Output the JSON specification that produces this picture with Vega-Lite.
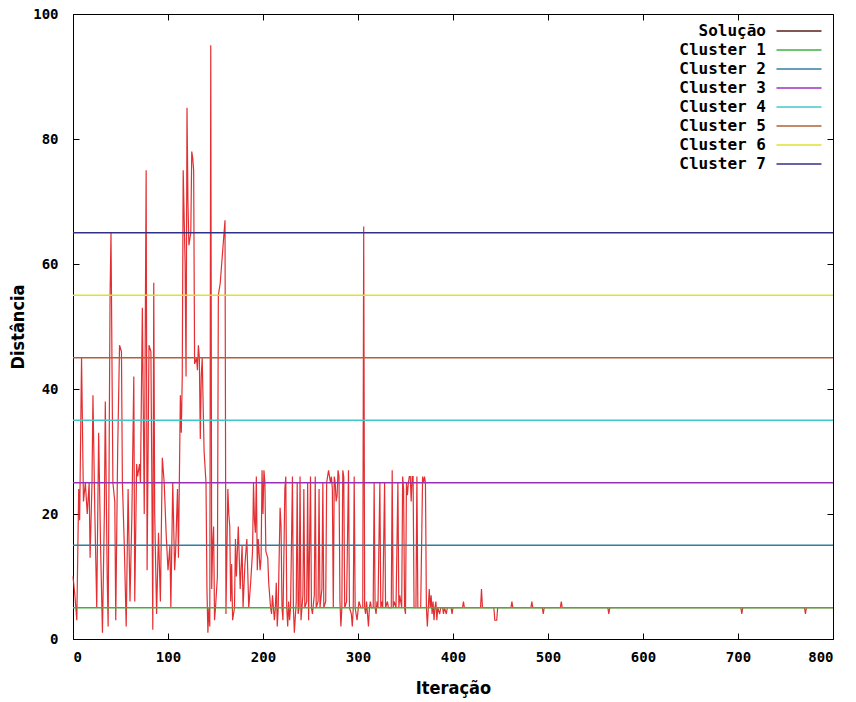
{
  "$schema": "https://vega.github.io/schema/vega-lite/v6.json",
  "width": 760,
  "height": 625,
  "autosize": {"type": "none"},
  "padding": {"left": 73, "top": 14, "right": 23, "bottom": 63},
  "background": "white",
  "config": {
    "view": {"stroke": "black", "strokeWidth": 1},
    "axis": {
      "grid": false,
      "domain": false,
      "labelFont": "DejaVu Sans Mono",
      "labelFontWeight": "bold",
      "labelFontSize": 14,
      "labelColor": "black",
      "tickColor": "black",
      "tickSize": -6,
      "titleFont": "DejaVu Sans Condensed",
      "titleFontWeight": "bold",
      "titleFontSize": 18,
      "titleColor": "black"
    },
    "legend": {
      "orient": "none",
      "legendX": 718,
      "legendY": 9,
      "padding": 0,
      "labelFont": "DejaVu Sans Mono",
      "labelFontWeight": "bold",
      "labelFontSize": 16,
      "labelColor": "black",
      "labelAlign": "right",
      "labelOffset": -41,
      "symbolType": "M-5,0H5",
      "symbolSize": 81,
      "symbolStrokeWidth": 1.5,
      "rowPadding": 3,
      "title": null
    }
  },
  "datasets": {
    "clusters": [
      {"s": "Cluster 1", "y": 5},
      {"s": "Cluster 2", "y": 15},
      {"s": "Cluster 3", "y": 25},
      {"s": "Cluster 4", "y": 35},
      {"s": "Cluster 5", "y": 45},
      {"s": "Cluster 6", "y": 55},
      {"s": "Cluster 7", "y": 65}
    ],
    "sol": [
      {"i":0,"v":10},{"i":2,"v":7},{"i":4,"v":3},{"i":6,"v":24},{"i":7,"v":19},{"i":9,"v":45},{"i":11,"v":22},{"i":13,"v":25},{"i":15,"v":20},{"i":17,"v":25},{"i":18,"v":13},{"i":20,"v":25},{"i":21,"v":39},{"i":23,"v":20},{"i":25,"v":5},{"i":27,"v":33},{"i":29,"v":15},{"i":31,"v":1},{"i":33,"v":20},{"i":34,"v":38},{"i":36,"v":10},{"i":37,"v":2},{"i":39,"v":55},{"i":40,"v":65},{"i":42,"v":25},{"i":44,"v":22},{"i":45,"v":3},{"i":47,"v":30},{"i":49,"v":47},{"i":51,"v":46},{"i":52,"v":25},{"i":54,"v":15},{"i":56,"v":2},{"i":58,"v":24},{"i":60,"v":6},{"i":62,"v":20},{"i":64,"v":42},{"i":65,"v":6},{"i":67,"v":28},{"i":68,"v":26},{"i":70,"v":28},{"i":71,"v":25},{"i":73,"v":53},{"i":75,"v":20},{"i":77,"v":75},{"i":78,"v":11},{"i":80,"v":47},{"i":82,"v":46},{"i":83,"v":25},{"i":84,"v":1.5},{"i":85,"v":57},{"i":86,"v":20},{"i":88,"v":4},{"i":90,"v":17},{"i":92,"v":6},{"i":94,"v":29},{"i":96,"v":25},{"i":98,"v":17},{"i":100,"v":11},{"i":102,"v":15},{"i":103,"v":5},{"i":105,"v":25},{"i":107,"v":11},{"i":108,"v":14},{"i":110,"v":24},{"i":111,"v":13},{"i":113,"v":39},{"i":114,"v":33},{"i":115,"v":42},{"i":116,"v":75},{"i":118,"v":60},{"i":119,"v":42},{"i":120,"v":85},{"i":121,"v":70},{"i":122,"v":63},{"i":124,"v":65},{"i":125,"v":78},{"i":126,"v":77},{"i":127,"v":75},{"i":128,"v":44},{"i":130,"v":45},{"i":131,"v":43},{"i":132,"v":47},{"i":133,"v":45},{"i":134,"v":32},{"i":135,"v":42},{"i":136,"v":45},{"i":138,"v":30},{"i":140,"v":25},{"i":141,"v":8},{"i":142,"v":1},{"i":143,"v":5},{"i":144,"v":2},{"i":145,"v":95},{"i":146,"v":8},{"i":147,"v":15},{"i":148,"v":18},{"i":149,"v":3},{"i":150,"v":5},{"i":152,"v":10},{"i":153,"v":55},{"i":154,"v":56},{"i":155,"v":57},{"i":156,"v":59},{"i":157,"v":61},{"i":158,"v":63},{"i":159,"v":65},{"i":160,"v":67},{"i":161,"v":4},{"i":163,"v":24},{"i":164,"v":20},{"i":165,"v":18},{"i":166,"v":6},{"i":167,"v":12},{"i":168,"v":3},{"i":170,"v":5},{"i":171,"v":16},{"i":172,"v":10},{"i":174,"v":18},{"i":176,"v":8},{"i":178,"v":15},{"i":179,"v":5},{"i":181,"v":12},{"i":183,"v":16},{"i":185,"v":5},{"i":187,"v":9},{"i":189,"v":14},{"i":190,"v":25},{"i":191,"v":19},{"i":192,"v":17},{"i":193,"v":26},{"i":194,"v":11},{"i":195,"v":16},{"i":197,"v":11},{"i":198,"v":13},{"i":199,"v":27},{"i":200,"v":20},{"i":201,"v":27},{"i":202,"v":25},{"i":203,"v":14},{"i":205,"v":13},{"i":206,"v":9},{"i":208,"v":5},{"i":209,"v":4},{"i":210,"v":7},{"i":212,"v":3},{"i":213,"v":5},{"i":214,"v":9},{"i":215,"v":2},{"i":216,"v":5},{"i":218,"v":21},{"i":219,"v":18},{"i":220,"v":5},{"i":221,"v":3},{"i":223,"v":24},{"i":224,"v":26},{"i":225,"v":5},{"i":226,"v":2},{"i":227,"v":6},{"i":228,"v":3},{"i":229,"v":5},{"i":231,"v":26},{"i":232,"v":5},{"i":233,"v":1},{"i":235,"v":6},{"i":236,"v":25},{"i":237,"v":4},{"i":238,"v":5},{"i":239,"v":26},{"i":240,"v":3},{"i":242,"v":7},{"i":243,"v":24},{"i":244,"v":5},{"i":246,"v":6},{"i":247,"v":25},{"i":248,"v":3},{"i":250,"v":26},{"i":251,"v":5},{"i":252,"v":4},{"i":254,"v":7},{"i":255,"v":26},{"i":256,"v":5},{"i":258,"v":6},{"i":259,"v":24},{"i":260,"v":5},{"i":262,"v":8},{"i":263,"v":25},{"i":264,"v":5},{"i":266,"v":6},{"i":267,"v":25},{"i":268,"v":26},{"i":269,"v":27},{"i":270,"v":26},{"i":271,"v":25},{"i":272,"v":26},{"i":273,"v":24},{"i":274,"v":5},{"i":275,"v":26},{"i":276,"v":25},{"i":277,"v":22},{"i":278,"v":23},{"i":279,"v":27},{"i":280,"v":26},{"i":281,"v":6},{"i":282,"v":2},{"i":283,"v":5},{"i":284,"v":27},{"i":285,"v":26},{"i":286,"v":5},{"i":288,"v":6},{"i":290,"v":27},{"i":291,"v":5},{"i":293,"v":4},{"i":294,"v":2},{"i":295,"v":5},{"i":296,"v":26},{"i":297,"v":5},{"i":299,"v":3},{"i":301,"v":6},{"i":303,"v":5},{"i":305,"v":5},{"i":306,"v":66},{"i":307,"v":5},{"i":308,"v":4},{"i":309,"v":6},{"i":310,"v":4},{"i":311,"v":2},{"i":312,"v":5},{"i":313,"v":6},{"i":314,"v":5},{"i":316,"v":5},{"i":317,"v":25},{"i":318,"v":5},{"i":319,"v":4},{"i":320,"v":6},{"i":321,"v":5},{"i":323,"v":25},{"i":324,"v":5},{"i":325,"v":6},{"i":326,"v":5},{"i":328,"v":25},{"i":329,"v":5},{"i":331,"v":6},{"i":332,"v":5},{"i":335,"v":5},{"i":336,"v":27},{"i":337,"v":5},{"i":338,"v":6},{"i":340,"v":5},{"i":342,"v":25},{"i":343,"v":5},{"i":344,"v":7},{"i":346,"v":5},{"i":347,"v":26},{"i":348,"v":24},{"i":349,"v":5},{"i":350,"v":4},{"i":351,"v":25},{"i":352,"v":23},{"i":353,"v":25},{"i":354,"v":26},{"i":355,"v":26},{"i":356,"v":22},{"i":357,"v":26},{"i":358,"v":26},{"i":359,"v":5},{"i":361,"v":5},{"i":362,"v":26},{"i":363,"v":5},{"i":366,"v":5},{"i":368,"v":26},{"i":369,"v":25},{"i":370,"v":26},{"i":371,"v":25},{"i":372,"v":5},{"i":373,"v":2},{"i":374,"v":5},{"i":375,"v":8},{"i":376,"v":5},{"i":377,"v":7},{"i":378,"v":4},{"i":379,"v":6},{"i":380,"v":3},{"i":381,"v":5},{"i":382,"v":6},{"i":383,"v":3},{"i":384,"v":5},{"i":386,"v":4},{"i":387,"v":5},{"i":389,"v":5},{"i":390,"v":4},{"i":391,"v":5},{"i":393,"v":4},{"i":394,"v":5},{"i":398,"v":5},{"i":399,"v":4},{"i":400,"v":5},{"i":410,"v":5},{"i":411,"v":6},{"i":412,"v":5},{"i":429,"v":5},{"i":430,"v":8},{"i":431,"v":5},{"i":443,"v":5},{"i":444,"v":3},{"i":446,"v":3},{"i":447,"v":5},{"i":461,"v":5},{"i":462,"v":6},{"i":463,"v":5},{"i":482,"v":5},{"i":483,"v":6},{"i":484,"v":5},{"i":494,"v":5},{"i":495,"v":4},{"i":496,"v":5},{"i":513,"v":5},{"i":514,"v":6},{"i":515,"v":5},{"i":563,"v":5},{"i":564,"v":4},{"i":565,"v":5},{"i":703,"v":5},{"i":704,"v":4},{"i":705,"v":5},{"i":770,"v":5},{"i":771,"v":4},{"i":772,"v":5},{"i":800,"v":5}
    ]
  },
  "layer": [
    {
      "data": {"name": "sol"},
      "mark": {"type": "line", "color": "#e0181c", "strokeWidth": 1.2, "opacity": 0.9},
      "encoding": {
        "x": {"field": "i", "type": "quantitative", "scale": {"domain": [0, 800], "nice": false},
              "axis": {"title": "Iteração", "values": [0,100,200,300,400,500,600,700,800], "labelPadding": 17, "titlePadding": 15}},
        "y": {"field": "v", "type": "quantitative", "scale": {"domain": [0, 100], "nice": false},
              "axis": {"title": "Distância", "values": [0,20,40,60,80,100], "labelPadding": 21, "titlePadding": 5}}
      }
    },
    {
      "data": {"name": "clusters"},
      "mark": {"type": "rule", "strokeWidth": 1.5},
      "encoding": {
        "y": {"field": "y", "type": "quantitative", "axis": null},
        "color": {"field": "s", "type": "nominal",
          "scale": {"domain": ["Solução","Cluster 1","Cluster 2","Cluster 3","Cluster 4","Cluster 5","Cluster 6","Cluster 7"],
                    "range": ["#5a1e1e","#40b040","#2f7fa0","#9b30b8","#40c8c8","#b0603a","#e0e030","#303088"]},
          "legend": {}}
      }
    },
    {
      "data": {"name": "sol"},
      "mark": {"type": "line", "opacity": 0},
      "encoding": {
        "x": {"field": "i", "type": "quantitative", "axis": {"orient": "top", "labels": false, "title": null, "values": [0,100,200,300,400,500,600,700,800]}},
        "y": {"field": "v", "type": "quantitative", "axis": {"orient": "right", "labels": false, "title": null, "values": [0,20,40,60,80,100]}}
      }
    }
  ],
  "resolve": {"axis": {"x": "independent", "y": "independent"}}
}
